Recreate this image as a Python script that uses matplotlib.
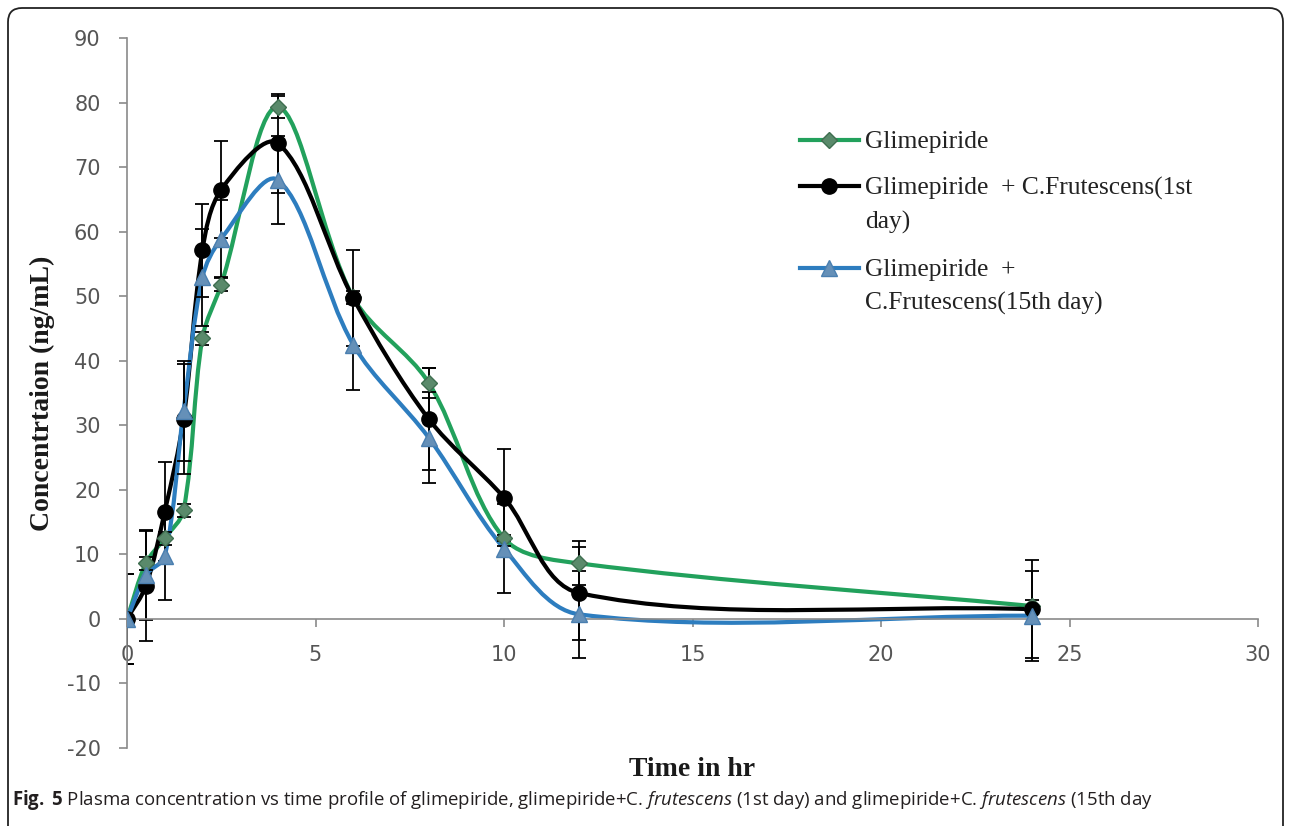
import numpy as np
import matplotlib
matplotlib.use("Agg")
import matplotlib.pyplot as plt
from matplotlib.path import Path
from matplotlib.patches import PathPatch, FancyBboxPatch
from matplotlib.lines import Line2D
from matplotlib.font_manager import FontProperties, fontManager
from matplotlib.transforms import IdentityTransform

# ---------------- data ----------------
time_hr = [0, 0.5, 1, 1.5, 2, 2.5, 4, 6, 8, 10, 12, 24]
glim = [0, 8.6, 12.5, 16.8, 43.5, 51.8, 79.3, 49.8, 36.6, 12.5, 8.6, 2.0]
glim_sd = [0.0, 1.0, 1.0, 1.0, 1.0, 1.0, 1.7, 1.0, 2.3, 0.5, 3.4, 1.0]
glim_cf1 = [0, 5.1, 16.6, 31.0, 57.1, 66.5, 73.7, 49.7, 31.0, 18.8, 4.0, 1.5]
glim_cf1_sd = [7.0, 8.5, 7.7, 8.5, 7.2, 7.5, 7.7, 7.4, 7.9, 7.5, 7.2, 7.6]
glim_cf15 = [0, 6.8, 9.7, 32.2, 52.9, 58.9, 68.0, 42.5, 28.1, 10.9, 0.7, 0.5]
glim_cf15_sd = [7.0, 7.0, 6.7, 7.7, 7.5, 6.0, 6.8, 7.1, 7.0, 6.9, 6.7, 7.0]

series_labels = [
    "Glimepiride",
    "Glimepiride  + C.Frutescens(1st\nday)",
    "Glimepiride  +\nC.Frutescens(15th day)",
]
x_ticks = [0, 5, 10, 15, 20, 25, 30]
y_ticks = [-20, -10, 0, 10, 20, 30, 40, 50, 60, 70, 80, 90]
x_label = "Time in hr"
y_label = "Concentrtaion (ng/mL)"

# ---------------- fonts ----------------
names = {f.name for f in fontManager.ttflist}
serif = "Liberation Serif" if "Liberation Serif" in names else "DejaVu Serif"
if "Liberation Sans Narrow" in names:
    cap_font, cap_size = "Liberation Sans Narrow", 16
else:
    cap_font, cap_size = "Open Sans", 13.4

plt.rcParams["axes.unicode_minus"] = False
plt.rcParams["mathtext.fontset"] = "custom"
plt.rcParams["mathtext.rm"] = cap_font
plt.rcParams["mathtext.it"] = cap_font + ":italic"
plt.rcParams["mathtext.bf"] = cap_font + ":bold"

W, H = 1290, 826
fig = plt.figure(figsize=(W / 100, H / 100), dpi=100)
fig.patch.set_facecolor("white")

# axes placement (pixels): x 127..1258, y 38..748 (from top)
ax = fig.add_axes([127 / W, 1 - 748 / H, (1258 - 127) / W, (748 - 38) / H])
ax.set_xlim(0, 30)
ax.set_ylim(-20, 90)


def smooth_path(x, y):
    """Spreadsheet-style smoothed line: cubic Bezier segments whose control
    points are derived (in screen space) from neighbouring data points."""
    tr = ax.transData
    pts = tr.transform(np.column_stack([x, y]).astype(float))
    n = len(pts)
    verts = [pts[0]]
    codes = [Path.MOVETO]
    for i in range(n - 1):
        p0 = pts[i - 1] if i > 0 else pts[i]
        p1 = pts[i]
        p2 = pts[i + 1]
        p3 = pts[i + 2] if i + 2 < n else pts[i + 1]
        d01 = np.hypot(*(p1 - p0))
        d12 = np.hypot(*(p2 - p1))
        d23 = np.hypot(*(p3 - p2))
        f1 = d12 / (3.0 * (d01 + d12)) if d01 + d12 > 0 else 0
        f2 = d12 / (3.0 * (d12 + d23)) if d12 + d23 > 0 else 0
        c1 = p1 + (p2 - p0) * f1
        c2 = p2 - (p3 - p1) * f2
        verts += [c1, c2, p2]
        codes += [Path.CURVE4] * 3
    verts = tr.inverted().transform(np.array(verts))
    return Path(verts, codes)


styles = [
    dict(color="#22a15c", marker="D", ms=8, mfc="#5a8a6b", mec="#3f6e50"),
    dict(color="#000000", marker="o", ms=11, mfc="#000000", mec="#000000"),
    dict(color="#2d7dbf", marker="^", ms=11, mfc="#6590b8", mec="#4a7fb0"),
]
data = [(glim, glim_sd), (glim_cf1, glim_cf1_sd), (glim_cf15, glim_cf15_sd)]
LW = 3.0

handles = []
for k, ((vals, sd), st) in enumerate(zip(data, styles)):
    patch = PathPatch(smooth_path(time_hr, vals), fill=False, edgecolor=st["color"],
                      lw=LW, capstyle="round", joinstyle="round",
                      transform=ax.transData, zorder=2 + k * 0.1)
    ax.add_patch(patch)
    ax.errorbar(time_hr, vals, yerr=sd, fmt="none", ecolor="black",
                elinewidth=1.3, capsize=5, capthick=1.3, zorder=2.5)
    ax.plot(time_hr, vals, ls="none", marker=st["marker"], ms=st["ms"],
            mfc=st["mfc"], mec=st["mec"], mew=1, zorder=3 + k * 0.1)
    handles.append(Line2D([], [], color=st["color"], lw=LW, marker=st["marker"],
                          ms=st["ms"], mfc=st["mfc"], mec=st["mec"]))

# spines / ticks
axis_col = "#8a8a8a"
for s in ["top", "right"]:
    ax.spines[s].set_visible(False)
ax.spines["left"].set_color(axis_col)
ax.spines["left"].set_linewidth(1.2)
ax.spines["bottom"].set_position(("data", 0))
ax.spines["bottom"].set_color(axis_col)
ax.spines["bottom"].set_linewidth(1.2)
ax.set_xticks(x_ticks)
ax.set_yticks(y_ticks)
ax.set_xticklabels([str(v) for v in x_ticks])
ax.set_yticklabels([str(v) for v in y_ticks])
ax.tick_params(axis="both", direction="out", length=6, width=1.2, color=axis_col,
               labelcolor="#555555", labelsize=15, pad=13)
for lab in ax.get_xticklabels() + ax.get_yticklabels():
    lab.set_family("DejaVu Sans")

ax.set_xlabel(x_label, fontfamily=serif, fontweight="bold", fontsize=20, color="#1a1a1a")
ax.set_ylabel(y_label, fontfamily=serif, fontweight="bold", fontsize=20, color="#1a1a1a")
ax.xaxis.set_label_coords(0.5, -0.013)
ax.yaxis.set_label_coords(-0.064, 0.5)

# legend
leg = ax.legend(handles, series_labels, loc="upper left",
                bbox_to_anchor=(800 / W, 1 - 131 / H), bbox_transform=fig.transFigure,
                frameon=False, prop=FontProperties(family=serif, size=18.4),
                handlelength=2.3, handletextpad=0.25, labelspacing=0.95,
                borderpad=0, borderaxespad=0, numpoints=1)
for t in leg.get_texts():
    t.set_linespacing(1.62)
    t.set_color("#222222")
try:
    for col in leg._legend_handle_box.get_children():
        for item in col.get_children():
            item.align = "top"
except Exception:
    pass

# caption
caption = (r"$\mathbf{Fig.\;5}$ Plasma concentration vs time profile of glimepiride, "
           r"glimepiride+C. $\mathit{frutescens}$ (1st day) and glimepiride+C. "
           r"$\mathit{frutescens}$ (15th day")
fig.text(12 / W, 1 - 800 / H, caption, fontfamily=cap_font, fontsize=cap_size,
         color="#231f20", va="center", ha="left")

# rounded border
border = FancyBboxPatch((8, -30), 1275, H - 8 + 30, boxstyle="round,pad=0,rounding_size=14",
                        transform=IdentityTransform(), fill=False, ec="#222222", lw=1.3)
fig.add_artist(border)

fig.savefig("out.png", dpi=100)
